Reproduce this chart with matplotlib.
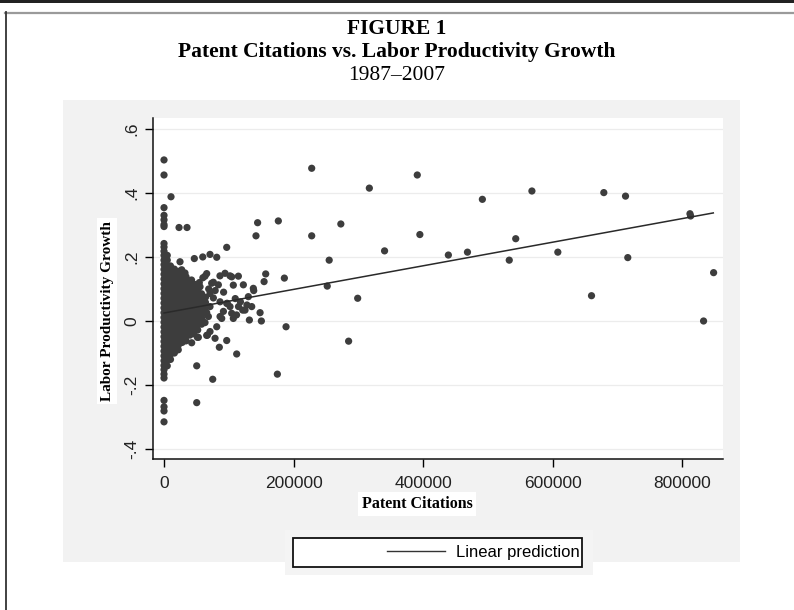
import matplotlib
matplotlib.use("Agg")
import matplotlib.pyplot as plt
from matplotlib.patches import Rectangle
from matplotlib.lines import Line2D

# ---------------- data ----------------
# dense wedge near zero citations: one x per column, many y values
cluster_x = [0, 5000, 10000, 16000, 22000, 28000, 34000, 40000, 46000, 52000, 58000, 64000]
cluster_y = [
    [0.242, 0.231, 0.218, 0.205, 0.190, 0.176, 0.161, 0.146, 0.131, 0.116, 0.101, 0.086,
     0.071, 0.056, 0.041, 0.026, 0.011, -0.004, -0.019, -0.034, -0.049, -0.064, -0.079,
     -0.094, -0.109, -0.124, -0.139, -0.152, -0.166, -0.178],
    [0.205, 0.190, 0.172, 0.158, 0.142, 0.127, 0.111, 0.096, 0.080, 0.064, 0.049, 0.033,
     0.018, 0.002, -0.013, -0.029, -0.044, -0.060, -0.075, -0.091, -0.106, -0.122, -0.140],
    [0.172, 0.160, 0.145, 0.130, 0.114, 0.098, 0.083, 0.067, 0.052, 0.036, 0.020, 0.005,
     -0.011, -0.026, -0.042, -0.057, -0.073, -0.088, -0.104, -0.120],
    [0.162, 0.148, 0.133, 0.117, 0.101, 0.086, 0.070, 0.055, 0.039, 0.024, 0.008, -0.007,
     -0.023, -0.038, -0.054, -0.070, -0.085, -0.100],
    [0.155, 0.140, 0.125, 0.110, 0.094, 0.079, 0.063, 0.048, 0.032, 0.017, 0.001, -0.014,
     -0.030, -0.045, -0.061, -0.076, -0.090],
    [0.150, 0.134, 0.118, 0.103, 0.087, 0.072, 0.056, 0.041, 0.025, 0.010, -0.006, -0.021,
     -0.037, -0.052, -0.067],
    [0.138, 0.122, 0.107, 0.091, 0.076, 0.060, 0.045, 0.029, 0.014, -0.002, -0.017, -0.033,
     -0.048, -0.062],
    [0.125, 0.110, 0.095, 0.080, 0.064, 0.049, 0.033, 0.018, 0.002, -0.013, -0.029, -0.044],
    [0.115, 0.100, 0.084, 0.068, 0.053, 0.037, 0.022, 0.006, -0.010, -0.025, -0.040],
    [0.098, 0.082, 0.066, 0.051, 0.035, 0.020, 0.004, -0.012, -0.028],
    [0.085, 0.070, 0.054, 0.039, 0.023, 0.008, -0.010],
    [0.074, 0.058, 0.042, 0.026],
]

# individual firms outside the dense wedge
point_x = [
    0, 0, 0, 0, 0, 0, 0, 0, 0, 0, 0,
    10800, 23200, 35500, 24700, 46800, 59800, 71000, 81400, 96800,
    27300, 32400, 42500, 47800, 55600, 60000, 63300, 65900, 73600, 83900, 86400, 94200,
    101900, 104500, 107000, 114800, 122500, 76200, 54500,
    71000, 76200, 86500, 96800, 101900, 104500, 112000, 115000, 125100, 130200, 86500,
    91700, 71000, 68500, 60700, 58200, 63300, 71000, 81400, 89100, 97800, 107000, 65900,
    118000, 128000, 79000, 92000, 110000, 69000,
    96800, 85400, 67000, 53000, 42700, 78800, 65900, 51500, 112200, 50500, 50500, 75200,
    137900, 138500, 135400, 131800, 121500, 148300, 150300, 157000, 154500, 142000,
    144500, 176500, 185800, 188400, 175000,
    228000, 228000, 273000, 255000, 252000, 299000, 285000, 317000, 340500,
    391000, 395000, 439000, 468500, 491500, 533000, 543000, 568000, 608000, 660000,
    679000, 712500, 716000, 812000, 813000, 833000, 848500,
]
point_y = [
    0.503, 0.456, 0.354, 0.330, 0.316, 0.301, 0.295, -0.248, -0.268, -0.281, -0.315,
    0.388, 0.292, 0.292, 0.185, 0.195, 0.200, 0.208, 0.199, 0.230,
    0.160, 0.150, 0.128, 0.113, 0.107, 0.135, 0.140, 0.148, 0.118, 0.113, 0.141, 0.149,
    0.141, 0.138, 0.112, 0.140, 0.113, 0.121, 0.120,
    0.086, 0.072, 0.060, 0.055, 0.045, 0.024, 0.019, 0.045, 0.034, 0.076, 0.014,
    0.030, 0.045, 0.014, 0.055, 0.010, -0.005, -0.033, -0.018, 0.008, 0.055, 0.008, 0.026,
    0.060, 0.050, 0.095, 0.090, 0.070, 0.100,
    -0.061, -0.082, -0.044, -0.051, -0.068, -0.054, -0.045, -0.051, -0.103, -0.140, -0.255, -0.182,
    0.102, 0.095, 0.045, 0.003, 0.034, 0.026, 0.000, 0.147, 0.123, 0.266,
    0.307, 0.3125, 0.134, -0.018, -0.166,
    0.477, 0.266, 0.303, 0.190, 0.109, 0.071, -0.063, 0.415, 0.219,
    0.456, 0.270, 0.206, 0.215, 0.380, 0.190, 0.257, 0.406, 0.215, 0.079,
    0.401, 0.390, 0.198, 0.335, 0.328, 0.000, 0.151,
]

# fitted line end points as drawn in the figure
fit_x = [0, 848000]
fit_y = [0.025, 0.3375]

x_ticks = [0, 200000, 400000, 600000, 800000]
x_tick_labels = ["0", "200000", "400000", "600000", "800000"]
y_ticks = [-0.4, -0.2, 0.0, 0.2, 0.4, 0.6]
y_tick_labels = ["-.4", "-.2", "0", ".2", ".4", ".6"]

title_1 = "FIGURE 1"
title_2 = "Patent Citations vs. Labor Productivity Growth"
title_3 = "1987\u20132007"
x_label = "Patent Citations"
y_label = "Labor Productivity Growth"
legend_label = "Linear prediction"

# ---------------- figure ----------------
W, H = 794, 610
fig = plt.figure(figsize=(W / 100, H / 100), dpi=100)
fig.patch.set_facecolor("white")


def fx(px):
    return px / W


def fy(py):
    return 1 - py / H


# page decorations
fig.add_artist(Rectangle((0, fy(3)), 1, 3 / H, transform=fig.transFigure,
                         facecolor="#222222", edgecolor="none", zorder=-3))
fig.add_artist(Line2D([fx(5), 1], [fy(12.8), fy(12.8)], transform=fig.transFigure,
                      color="#9a9a9a", lw=1.6, zorder=-3))
fig.add_artist(Line2D([fx(5.8), fx(5.8)], [fy(12), 0], transform=fig.transFigure,
                      color="#333333", lw=1.3, zorder=-3))

# graph region (light grey)
fig.add_artist(Rectangle((fx(63), fy(562)), (740 - 63) / W, (562 - 100) / H,
                         transform=fig.transFigure, facecolor="#f2f2f2",
                         edgecolor="none", zorder=-2))
fig.add_artist(Rectangle((fx(285), fy(575)), (593 - 285) / W, (575 - 530) / H,
                         transform=fig.transFigure, facecolor="#f4f4f4",
                         edgecolor="none", zorder=-1.5))

# titles
serif = ["Liberation Serif", "DejaVu Serif"]
fig.text(0.5, fy(29), title_1, ha="center", va="center", family=serif,
         weight="bold", fontsize=15.5)
fig.text(0.5, fy(52), title_2, ha="center", va="center", family=serif,
         weight="bold", fontsize=15.5)
fig.text(0.5, fy(75), title_3, ha="center", va="center", family=serif,
         fontsize=15.5)

# plot region
ax = fig.add_axes([fx(153), fy(459), (723 - 153) / W, (459 - 118) / H])
ax.set_facecolor("white")

all_x = [x for x, col in zip(cluster_x, cluster_y) for _ in col] + point_x
all_y = [y for col in cluster_y for y in col] + point_y
ax.scatter(all_x, all_y, s=27, color="#3d3d3d", edgecolors="none", zorder=3)
reg_line, = ax.plot(fit_x, fit_y, color="#2a2a2a", lw=1.1, zorder=4)

ax.set_xlim(-17000, 863000)
ax.set_ylim(-0.431, 0.634)
ax.set_xticks(x_ticks)
ax.set_xticklabels(x_tick_labels)
ax.set_yticks(y_ticks)
ax.set_yticklabels(y_tick_labels, rotation=90, va="center")

sans = ["Liberation Sans", "DejaVu Sans"]
for lab in ax.get_xticklabels() + ax.get_yticklabels():
    lab.set_family(sans)
    lab.set_fontsize(12.5)
    lab.set_color("#222222")

ax.tick_params(axis="x", direction="out", length=6, width=1.0, pad=6)
ax.tick_params(axis="y", direction="out", length=6, width=1.0, pad=4)
ax.yaxis.grid(True, color="#ececec", lw=0.9)
ax.set_axisbelow(True)
for side in ("top", "right"):
    ax.spines[side].set_visible(False)
for side in ("left", "bottom"):
    ax.spines[side].set_color("#111111")
    ax.spines[side].set_linewidth(1.1)

box = dict(facecolor="white", edgecolor="none", pad=2.5)
ax.set_xlabel(x_label, family=serif, weight="bold", fontsize=11.5, va="center", bbox=box)
ax.xaxis.set_label_coords((417 - 153) / 570, -(504 - 459) / 341)
ax.set_ylabel(y_label, family=serif, weight="bold", fontsize=11, va="center", bbox=box)
ax.yaxis.set_label_coords((107 - 153) / 570, (459 - 311) / 341)

# legend
fig.add_artist(Rectangle((fx(293), fy(567)), (582 - 293) / W, (567 - 538) / H,
                         transform=fig.transFigure, facecolor="white",
                         edgecolor="#111111", lw=1.3, zorder=-1))
leg_handle = Line2D([], [], color="#333333", lw=1.0)
fig.legend([leg_handle], [legend_label], loc="center right",
           bbox_to_anchor=(fx(580), fy(552.5)), frameon=False,
           prop={"family": sans, "size": 12}, handlelength=3.5,
           handletextpad=0.65, borderpad=0, borderaxespad=0)

fig.savefig("out.png", dpi=100, facecolor="white")
